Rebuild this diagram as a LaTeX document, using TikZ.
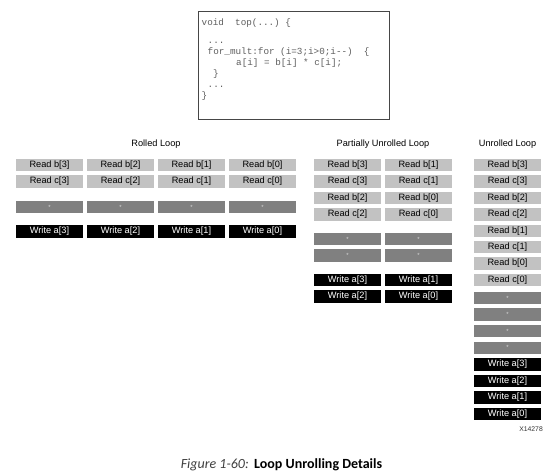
\documentclass[tikz,border=0pt]{standalone}
\usepackage{fontspec}
\setmainfont{Liberation Sans}
\setmonofont{Liberation Mono}
\newfontfamily\capfont{Carlito}
\definecolor{readgray}{RGB}{194,194,194}
\definecolor{multgray}{RGB}{128,128,128}
\definecolor{codeink}{RGB}{95,95,95}
\definecolor{frame}{RGB}{70,70,70}

\begin{document}
\begin{tikzpicture}[x=1pt, y=-1pt, font=\fontsize{9.2}{10}\selectfont,
    opbox/.style={minimum width=67pt, minimum height=12.5pt, inner sep=0pt},
    readbox/.style={opbox, fill=readgray},
    multbox/.style={opbox, fill=multgray, text=white!85!black, font=\fontsize{6}{6}\selectfont},
    writebox/.style={opbox, fill=black, text=white},
    codeline/.style={anchor=base west, inner sep=0pt, text=codeink, font=\ttfamily\fontsize{9.3}{10}\selectfont},
    looptitle/.style={inner sep=0pt}]

  \useasboundingbox (0,0) rectangle (558,474);

  % source snippet
  \draw[frame, line width=0.8pt, fill=white] (198,11) rectangle (389,119);
  \node[codeline] (code1) at (201.5,25) {void\ \ top(...)\ \{};
  \node[codeline] (code2) at (207.5,43.5) {...};
  \node[codeline] (code3) at (207.5,54.5) {for\_mult:for\ (i=3;i>0;i-{}-)\ \ \{};
  \node[codeline] (code4) at (236,65.5) {a[i]\ =\ b[i]\ *\ c[i];};
  \node[codeline] (code5) at (213,76.5) {\}};
  \node[codeline] (code6) at (207.5,87) {...};
  \node[codeline] (code7) at (201.5,98) {\}};

  % rolled loop
  \node[looptitle] (rolled) at (156,144) {Rolled Loop};
  \foreach \i/\n in {0/3,1/2,2/1,3/0}{
    \node[readbox]  (rb\n) at (49.5+71*\i,165.2) {Read b[\n]};
    \node[readbox]  (rc\n) at (49.5+71*\i,181.6) {Read c[\n]};
    \node[multbox]  (rm\n) at (49.5+71*\i,207)   {*};
    \node[writebox] (rw\n) at (49.5+71*\i,231.5) {Write a[\n]};
  }

  % partially unrolled loop
  \node[looptitle] (partial) at (383,144) {Partially Unrolled Loop};
  \foreach \x/\hi/\lo in {347.5/3/2,418.5/1/0}{
    \node[readbox]  (pb\hi) at (\x,165.2) {Read b[\hi]};
    \node[readbox]  (pc\hi) at (\x,181.6) {Read c[\hi]};
    \node[readbox]  (pb\lo) at (\x,198)   {Read b[\lo]};
    \node[readbox]  (pc\lo) at (\x,214.4) {Read c[\lo]};
    \node[multbox]  (pm\hi) at (\x,239)   {*};
    \node[multbox]  (pm\lo) at (\x,255.5) {*};
    \node[writebox] (pw\hi) at (\x,280)   {Write a[\hi]};
    \node[writebox] (pw\lo) at (\x,296.3) {Write a[\lo]};
  }

  % unrolled loop
  \node[looptitle] (unrolled) at (507.5,144) {Unrolled Loop};
  \foreach \n [count=\k from 0] in {3,2,1,0}{
    \node[readbox]  (ub\n) at (507.5,165.2+32.8*\k) {Read b[\n]};
    \node[readbox]  (uc\n) at (507.5,181.6+32.8*\k) {Read c[\n]};
    \node[multbox]  (um\n) at (507.5,298+16.6*\k)   {*};
    \node[writebox] (uw\n) at (507.5,364.4+16.6*\k) {Write a[\n]};
  }

  \node[anchor=base east, inner sep=0pt, text=black!80, font=\fontsize{6.8}{7}\selectfont] (figid) at (543,431.5) {X14278};

  % caption
  \node[anchor=base east, inner sep=0pt, text=black!75, font=\capfont\itshape\fontsize{14}{16}\selectfont] (capnum) at (249,468.7) {Figure 1-60:};
  \node[anchor=base west, inner sep=0pt, font=\capfont\bfseries\fontsize{14}{16}\selectfont] (captext) at (254,468.7) {Loop Unrolling Details};
\end{tikzpicture}
\end{document}
